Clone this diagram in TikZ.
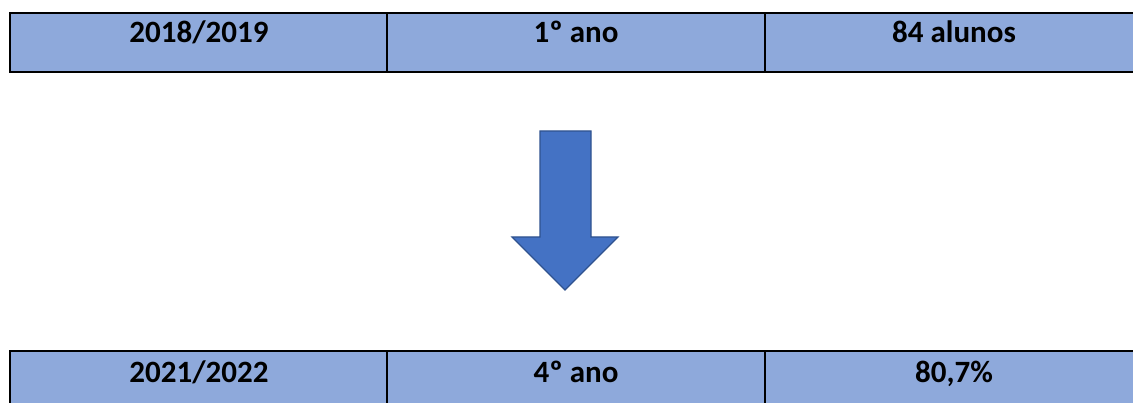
\documentclass[tikz,border=0pt]{standalone}
\usepackage{fontspec}
\setmainfont{Carlito}
\definecolor{cellblue}{HTML}{8EA9DB}
\definecolor{arrowfill}{HTML}{4472C4}
\definecolor{arrowline}{HTML}{2F528F}
\begin{document}
\begin{tikzpicture}[x=1pt,y=-1pt,
  cell/.style={draw=black,fill=cellblue,line width=2pt,minimum width=378pt,minimum height=59pt,inner sep=0pt,anchor=north west},
  celltext/.style={font=\fontsize{31}{36}\selectfont\bfseries,anchor=base,inner sep=0pt}]
\useasboundingbox (0,0) rectangle (1133,403);
\clip (0,0) rectangle (1133,403);
\fill[white] (0,0) rectangle (1133,403);
% top row
\node[cell] (a1) at (9,12) {};
\node[cell] (a2) at (386,12) {};
\node[cell] (a3) at (764,12) {};
\node[celltext] (t1) at ([yshift=-31pt]a1.north) {2018/2019};
\node[celltext] (t2) at ([yshift=-31pt]a2.north) {1º ano};
\node[celltext] (t3) at ([yshift=-31pt]a3.north) {84 alunos};
% bottom row
\node[cell] (b1) at (9,350) {};
\node[cell] (b2) at (386,350) {};
\node[cell] (b3) at (764,350) {};
\node[celltext] (u1) at ([yshift=-33pt]b1.north) {2021/2022};
\node[celltext] (u2) at ([yshift=-33pt]b2.north) {4º ano};
\node[celltext] (u3) at ([yshift=-33pt]b3.north) {80,7\%};
% arrow
\draw[fill=arrowfill,draw=arrowline,line width=1.2pt,line join=miter]
  (540,131) -- (591,131) -- (591,237) -- (618,237) -- (565,290) -- (512,237) -- (540,237) -- cycle;
\end{tikzpicture}
\end{document}
